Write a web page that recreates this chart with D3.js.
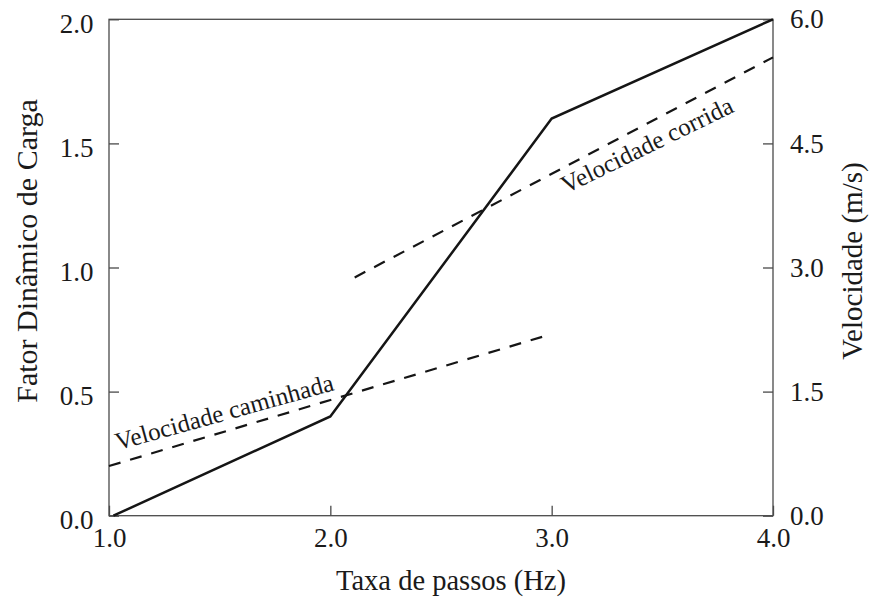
<!DOCTYPE html>
<html>
<head>
<meta charset="utf-8">
<script src="https://cdn.jsdelivr.net/npm/d3@7"></script>
<style>
  html, body { margin: 0; padding: 0; background: #fff; }
  svg { display: block; }
  svg text { font-family: "Liberation Serif", "Times New Roman", Times, "Nimbus Roman", "DejaVu Serif", serif; }
</style>
</head>
<body>
<svg id="chart" width="871" height="601"></svg>
<script>
// ---- data ----
const xTicks = [1.0, 2.0, 3.0, 4.0];
const leftTicks = [0.0, 0.5, 1.0, 1.5, 2.0];
const rightTicks = [0.0, 1.5, 3.0, 4.5, 6.0];

// Fator dinâmico de carga (left axis)
const dlfX = [1.02, 2.0, 3.0, 4.0];
const dlfY = [0.0, 0.4, 1.6, 2.0];

// Velocidade caminhada (right axis, m/s)
const walkX = [1.0, 2.98];
const walkV = [0.6, 2.18];

// Velocidade corrida (right axis, m/s)
const runX = [2.11, 4.0];
const runV = [2.88, 5.54];

const labelTexts = ["Velocidade caminhada", "Velocidade corrida"];
const labelX = [1.04, 3.065];
const labelV = [0.79, 3.89];
const labelAngle = [-15.5, -26];

const xTitle = "Taxa de passos (Hz)";
const yLeftTitle = "Fator Dinâmico de Carga";
const yRightTitle = "Velocidade (m/s)";

// ---- layout ----
const L = 109, R = 773, T = 19.3, B = 515.7;
const svg = d3.select("#chart");

const x = d3.scaleLinear().domain([1, 4]).range([L, R]);
const yL = d3.scaleLinear().domain([0, 2]).range([B, T]);
const yR = d3.scaleLinear().domain([0, 6]).range([B, T]);

const fmt = d3.format(".1f");
const axisColor = "#4a4a4a";
const textColor = "#1a1a1a";

function styleAxis(g) {
  g.attr("font-family", null);
  g.select(".domain").remove();
  g.selectAll(".tick line").attr("stroke", axisColor).attr("stroke-width", 1.3);
  g.selectAll(".tick text").attr("fill", textColor).attr("font-size", 27);
}

// bottom
svg.append("g").attr("transform", `translate(0,${B})`)
  .call(d3.axisBottom(x).tickValues(xTicks).tickFormat(fmt).tickSize(-10).tickPadding(12))
  .call(styleAxis);

// left
const gl = svg.append("g").attr("transform", `translate(${L},0)`)
  .call(d3.axisLeft(yL).tickValues(leftTicks).tickFormat(fmt).tickSize(-10).tickPadding(15.5))
  .call(styleAxis);
gl.selectAll(".tick text").attr("dy", "0.47em");

// right
const gr = svg.append("g").attr("transform", `translate(${R},0)`)
  .call(d3.axisRight(yR).tickValues(rightTicks).tickFormat(fmt).tickSize(-10).tickPadding(17))
  .call(styleAxis);
gr.selectAll(".tick text").attr("dy", "0.32em");

// frame
svg.append("rect")
  .attr("x", L).attr("y", T).attr("width", R - L).attr("height", B - T)
  .attr("fill", "none").attr("stroke", axisColor).attr("stroke-width", 1.3);

// lines
const lineL = d3.line().x(d => x(d[0])).y(d => yL(d[1]));
const lineR = d3.line().x(d => x(d[0])).y(d => yR(d[1]));

svg.append("path")
  .datum(d3.zip(dlfX, dlfY))
  .attr("d", lineL)
  .attr("fill", "none").attr("stroke", "#151515").attr("stroke-width", 2.5)
  .attr("stroke-linejoin", "miter");

svg.append("path")
  .datum(d3.zip(walkX, walkV))
  .attr("d", lineR)
  .attr("fill", "none").attr("stroke", "#151515").attr("stroke-width", 2.2)
  .attr("stroke-dasharray", "12,10");

svg.append("path")
  .datum(d3.zip(runX, runV))
  .attr("d", lineR)
  .attr("fill", "none").attr("stroke", "#151515").attr("stroke-width", 2.2)
  .attr("stroke-dasharray", "12,10");

// line labels
labelTexts.forEach((t, i) => {
  const px = x(labelX[i]), py = yR(labelV[i]);
  svg.append("text")
    .attr("transform", `translate(${px},${py}) rotate(${labelAngle[i]})`)
    .attr("font-size", 25).attr("fill", textColor)
    .text(t);
});

// axis titles
svg.append("text")
  .attr("x", 451).attr("y", 590)
  .attr("text-anchor", "middle").attr("font-size", 28.5).attr("fill", textColor)
  .text(xTitle);

svg.append("text")
  .attr("transform", `translate(37,251) rotate(-90)`)
  .attr("text-anchor", "middle").attr("font-size", 30).attr("fill", textColor)
  .text(yLeftTitle);

svg.append("text")
  .attr("transform", `translate(862,261) rotate(-90)`)
  .attr("text-anchor", "middle").attr("font-size", 29).attr("fill", textColor)
  .text(yRightTitle);
</script>
</body>
</html>
